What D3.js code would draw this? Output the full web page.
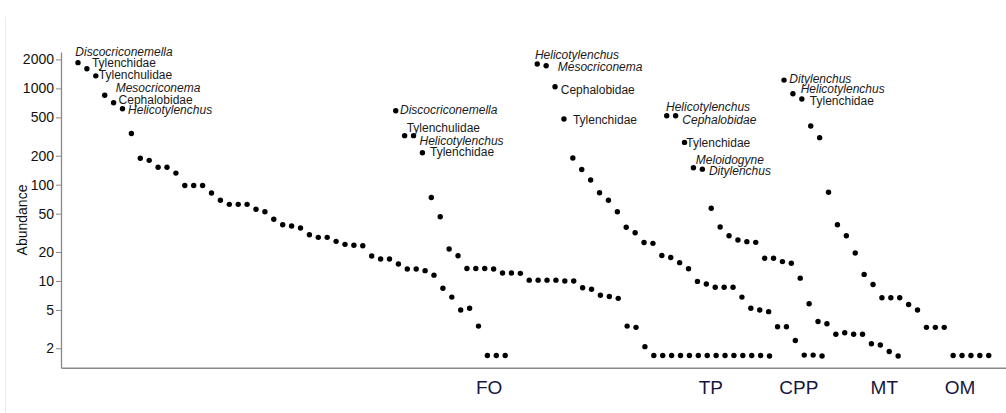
<!DOCTYPE html>
<html>
<head>
<meta charset="utf-8">
<script src="https://cdn.jsdelivr.net/npm/d3@7"></script>
<style>
  html, body { margin: 0; padding: 0; background: #fff; }
  svg { display: block; font-family: "Liberation Sans", Arial, sans-serif; }
</style>
</head>
<body>
<svg id="chart" width="1006" height="413"></svg>
<script>
// rank-abundance values, one array per habitat curve
const valuesA = [1850, 1600, 1350, 850, 710, 615, 340, 188, 179, 152, 152, 132, 98, 98, 98, 82, 69,
  62.5, 62.5, 62.5, 55.5, 52.4, 43.7, 38.4, 37.2, 35.5, 30.2, 28.4, 28.4, 25.8, 24.0, 23.5, 23.2,
  18.2, 16.9, 16.9, 15.0, 13.3, 13.3, 12.8, 11.5, 8.4, 6.8, 5.0, 5.2, 3.4, 1.68, 1.68, 1.68];
const valuesB = [587, 323, 323, 215, 73.6, 46.5, 21.5, 18.3, 13.5, 13.5, 13.5, 13.3, 12.1, 12.1, 12,
  10.2, 10.2, 10.2, 10.2, 10, 10, 8.5, 8.2, 7.1, 6.9, 6.6, 3.4, 3.3, 2.08,
  1.68, 1.68, 1.68, 1.68, 1.68, 1.68, 1.68, 1.68, 1.68, 1.68, 1.68, 1.68, 1.68, 1.66];
const valuesC = [1790, 1720, 1040, 481, 189, 144, 112, 82.6, 68.9, 52.4, 36.1, 31.7, 25.1, 24.6,
  18.4, 17.5, 15.5, 13.4, 9.9, 9.3, 8.6, 8.6, 8.6, 6.8, 5.2, 5.0, 4.8, 3.35, 3.35, 2.41, 1.7, 1.7, 1.66];
const valuesD = [520, 520, 275, 150, 145, 56.9, 36.4, 29.5, 26.6, 25.6, 25.2, 17.2, 17.2, 15.9, 15.3,
  10.7, 5.8, 3.8, 3.6, 2.8, 2.9, 2.8, 2.8, 2.23, 2.16, 1.85, 1.66];
const valuesE = [1220, 881, 776, 407, 308, 83.4, 38.4, 29.5, 19.5, 11.7, 9.2, 6.7, 6.7, 6.7, 5.7,
  5.0, 3.3, 3.3, 3.3, 1.68, 1.68, 1.68, 1.68, 1.68];

// rank at which each curve starts on the shared x axis
const curveStart = [1, 36.7, 52.6, 67.15, 80.33];

// names of the top taxa of each curve (italic = genus)
const taxaA = [["Discocriconemella", 1], ["Tylenchidae", 0], ["Tylenchulidae", 0], ["Mesocriconema", 1], ["Cephalobidae", 0], ["Helicotylenchus", 1]];
const taxaB = [["Discocriconemella", 1], ["Tylenchulidae", 0], ["Helicotylenchus", 1], ["Tylenchidae", 0]];
const taxaC = [["Helicotylenchus", 1], ["Mesocriconema", 1], ["Cephalobidae", 0], ["Tylenchidae", 0]];
const taxaD = [["Helicotylenchus", 1], ["Cephalobidae", 1], ["Tylenchidae", 0], ["Meloidogyne", 1], ["Ditylenchus", 1]];
const taxaE = [["Ditylenchus", 1], ["Helicotylenchus", 1], ["Tylenchidae", 0]];

const groupNames = ["FO", "TP", "CPP", "MT", "OM"];
const groupRank = [47.2, 72.1, 82.0, 91.6, 100.1];

const yTicks = [2, 5, 10, 20, 50, 100, 200, 500, 1000, 2000];

// label nudges (px) from each dot, repel style
const nudgeA = [[-2.7, -10.6], [5, -5.7], [3, -1.4], [11, -7.7], [5, -3.4], [5.6, 1.3]];
const nudgeB = [[4.3, -0.7], [2, -7.4], [6, 5.3], [7.6, -0.4]];
const nudgeC = [[-2.3, -9], [11.6, 1], [5.7, 3.3], [9, 1]];
const nudgeD = [[-0.7, -9], [6.7, 3.6], [1.7, 0], [2.4, -8.4], [6.6, 1.7]];
const nudgeE = [[5.3, -1.7], [7.7, -4.4], [8, 1.7]];

const svg = d3.select('#chart');

const x = d3.scaleLinear().domain([-0.91, 105.27]).range([61, 1006]);
const y = d3.scaleLog().domain([1.257, 2388]).range([367.7, 52]);

// faint panel edge
svg.append('line')
  .attr('x1', 5.5).attr('x2', 5.5).attr('y1', 17).attr('y2', 413)
  .attr('stroke', '#ececec').attr('stroke-width', 1);

// y axis
const yAxis = svg.append('g')
  .attr('transform', `translate(${x.range()[0]},0)`)
  .call(d3.axisLeft(y).tickValues(yTicks).tickFormat(d3.format('d')).tickSize(5).tickSizeOuter(0).tickPadding(2));
yAxis.select('.domain').attr('stroke', '#8a8a8a').attr('stroke-width', 1.3);
yAxis.selectAll('.tick line').attr('stroke', '#8a8a8a');
yAxis.selectAll('.tick text')
  .attr('fill', '#111')
  .style('font-size', '14px')
  .style('font-family', '"Liberation Sans", Arial, sans-serif');

svg.append('text')
  .attr('transform', 'translate(27,220) rotate(-90)')
  .attr('text-anchor', 'middle')
  .attr('fill', '#111')
  .style('font-size', '14px')
  .text('Abundance');

// x axis: bare line, groups named below
const xAxis = svg.append('g')
  .attr('transform', `translate(0,${y.range()[0]})`)
  .call(d3.axisBottom(x).tickValues([]).tickSizeOuter(0));
xAxis.select('.domain').attr('stroke', '#8a8a8a').attr('stroke-width', 1.6);

svg.append('g')
  .selectAll('text')
  .data(groupNames)
  .join('text')
    .attr('x', (d, i) => x(groupRank[i]))
    .attr('y', 393.5)
    .attr('text-anchor', 'middle')
    .attr('fill', '#17173f')
    .style('font-size', '19px')
    .text(d => d);

// dots
const curves = [valuesA, valuesB, valuesC, valuesD, valuesE];
const points = curves.flatMap((vals, c) => vals.map((v, i) => ({ curve: c, rank: curveStart[c] + i, value: v })));

svg.append('g')
  .selectAll('.rank-point')
  .data(points)
  .join('circle')
    .attr('class', 'rank-point')
    .attr('cx', d => x(d.rank))
    .attr('cy', d => y(d.value))
    .attr('r', 2.7)
    .attr('fill', '#000');

// taxon labels
const taxa = [taxaA, taxaB, taxaC, taxaD, taxaE];
const nudges = [nudgeA, nudgeB, nudgeC, nudgeD, nudgeE];
const labels = taxa.flatMap((list, c) => list.map(([name, italic], i) => ({
  name, italic,
  rank: curveStart[c] + i,
  value: curves[c][i],
  nudge: nudges[c][i]
})));

svg.append('g')
  .selectAll('.taxon-label')
  .data(labels)
  .join('text')
    .attr('class', 'taxon-label')
    .attr('x', d => x(d.rank) + d.nudge[0])
    .attr('y', d => y(d.value) + d.nudge[1] + 4.2)
    .attr('fill', '#1a1a1a')
    .style('font-size', '12px')
    .style('font-style', d => d.italic ? 'italic' : 'normal')
    .text(d => d.name);
</script>
</body>
</html>
